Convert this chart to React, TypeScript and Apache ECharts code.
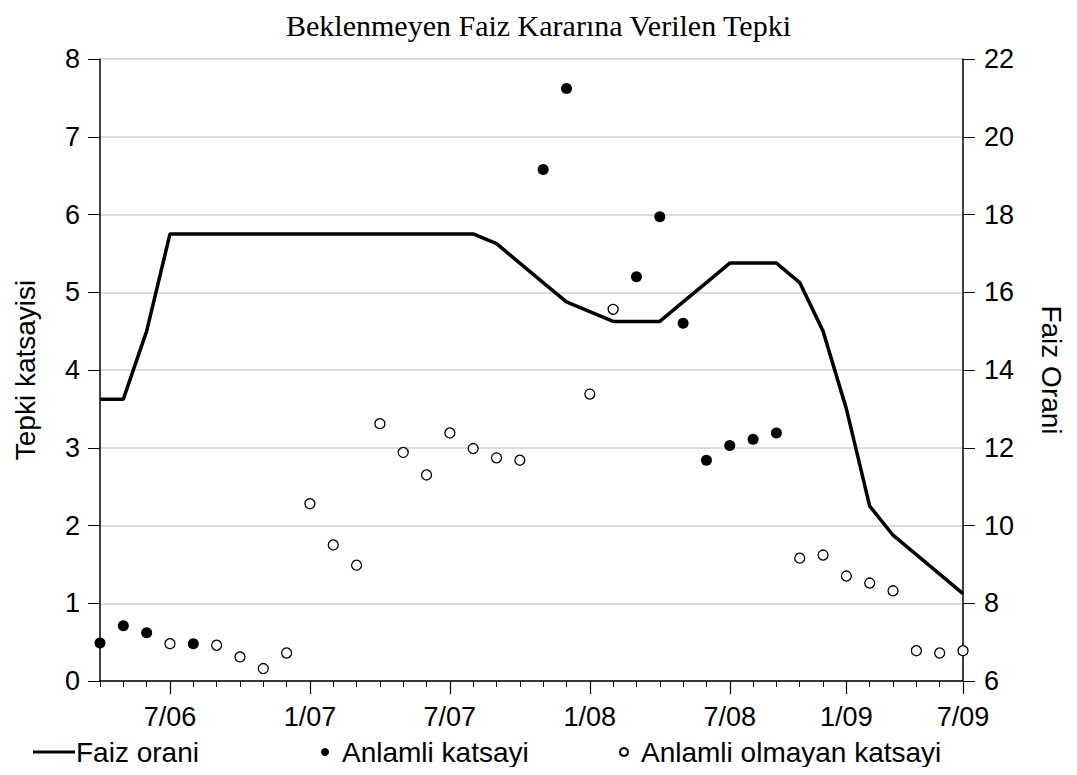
import React, { useEffect, useRef } from "react";
import * as echarts from "echarts";

const categories = [
  "4/06", "5/06", "6/06", "7/06", "8/06", "9/06", "10/06", "11/06", "12/06",
  "1/07", "2/07", "3/07", "4/07", "5/07", "6/07", "7/07", "8/07", "9/07", "10/07", "11/07", "12/07",
  "1/08", "2/08", "3/08", "4/08", "5/08", "6/08", "7/08", "8/08", "9/08", "11/08", "12/08",
  "1/09", "3/09", "4/09", "5/09", "6/09", "7/09",
];
const shownLabels = ["7/06", "1/07", "7/07", "1/08", "7/08", "1/09", "7/09"];

const faizOrani = [
  13.25, 13.25, 15.0, 17.5, 17.5, 17.5, 17.5, 17.5, 17.5,
  17.5, 17.5, 17.5, 17.5, 17.5, 17.5, 17.5, 17.5, 17.25, 16.75, 16.25, 15.75,
  15.5, 15.25, 15.25, 15.25, 15.75, 16.25, 16.75, 16.75, 16.75, 16.25, 15.0,
  13.0, 10.5, 9.75, 9.25, 8.75, 8.25,
];

const anlamli = [
  0.49, 0.71, 0.62, null, 0.48, null, null, null, null,
  null, null, null, null, null, null, null, null, null, null, 6.58, 7.62,
  null, null, 5.2, 5.97, 4.6, 2.84, 3.03, 3.11, 3.19, null, null,
  null, null, null, null, null, null,
];

const anlamliOlmayan = [
  null, null, null, 0.48, null, 0.46, 0.31, 0.16, 0.36,
  2.28, 1.75, 1.49, 3.31, 2.94, 2.65, 3.19, 2.99, 2.87, 2.84, null, null,
  3.69, 4.78, null, null, null, null, null, null, null, 1.58, 1.62,
  1.35, 1.26, 1.16, 0.39, 0.36, 0.39,
];

const SANS = "'Liberation Sans', Arial, sans-serif";
const SERIF = "'Liberation Serif', 'Times New Roman', serif";

export default function App() {
  const ref = useRef<HTMLDivElement>(null);
  useEffect(() => {
    if (!ref.current) return;
    const chart = echarts.init(ref.current, null, { renderer: "svg" });
    const labelText = { fontFamily: SANS, fontSize: 27, color: "#000" };
    const nameText = { fontFamily: SANS, fontSize: 28, color: "#000" };
    const legendText = { fontFamily: SANS, fontSize: 28, color: "#000" };
    chart.setOption({
      animation: false,
      backgroundColor: "#fff",
      title: {
        text: "Beklenmeyen Faiz Kararına Verilen Tepki",
        left: "center",
        top: 5,
        textStyle: { fontFamily: SERIF, fontSize: 30, fontWeight: "normal", color: "#000" },
      },
      grid: { left: 100, right: 114, top: 59, bottom: 94, containLabel: false },
      legend: [
        {
          data: [{ name: "Faiz orani", icon: "rect" }],
          left: 28, top: 733, itemWidth: 42, itemHeight: 3, itemGap: 0,
          textStyle: { ...legendText, padding: [0, 0, 0, -4] },
          itemStyle: { color: "#000" },
        },
        {
          data: [{ name: "Anlamli katsayi", icon: "circle" }],
          left: 316, top: 733, itemWidth: 8, itemHeight: 8,
          textStyle: { ...legendText, padding: [0, 0, 0, 8] },
        },
        {
          data: [{ name: "Anlamli olmayan katsayi", icon: "circle" }],
          left: 614, top: 733, itemWidth: 8, itemHeight: 8,
          textStyle: { ...legendText, padding: [0, 0, 0, 8] },
        },
      ],
      xAxis: [
        {
          type: "category",
          data: categories,
          boundaryGap: false,
          position: "bottom",
          axisLine: { show: true, lineStyle: { color: "#000", width: 1.5 } },
          axisTick: { show: true, interval: 0, length: 6, lineStyle: { color: "#000", width: 1 } },
          axisLabel: {
            interval: (_i: number, v: string) => shownLabels.includes(v),
            margin: 22,
            ...labelText,
          },
          splitLine: { show: false },
        },
        {
          type: "category",
          data: categories,
          boundaryGap: false,
          position: "bottom",
          axisLine: { show: false },
          axisTick: {
            show: true,
            interval: (_i: number, v: string) => shownLabels.includes(v),
            length: 13,
            lineStyle: { color: "#000", width: 1.2 },
          },
          axisLabel: { show: false },
          splitLine: { show: false },
        },
      ],
      yAxis: [
        {
          type: "value",
          min: 0,
          max: 8,
          interval: 1,
          position: "left",
          name: "Tepki katsayisi",
          nameLocation: "middle",
          nameGap: 61,
          nameTextStyle: nameText,
          axisLine: { show: true, lineStyle: { color: "#000", width: 1.5 } },
          axisTick: { show: true, length: 12, lineStyle: { color: "#000", width: 1 } },
          axisLabel: { margin: 20, ...labelText },
          splitLine: { show: true, lineStyle: { color: "#d0d0d0", width: 1.5 } },
        },
        {
          type: "value",
          min: 6,
          max: 22,
          interval: 2,
          position: "right",
          name: "Faiz Orani",
          nameLocation: "middle",
          nameRotate: -90,
          nameGap: 74,
          nameTextStyle: nameText,
          axisLine: { show: true, lineStyle: { color: "#000", width: 1.5 } },
          axisTick: { show: true, length: 12, lineStyle: { color: "#000", width: 1 } },
          axisLabel: { margin: 21, ...labelText },
          splitLine: { show: false },
        },
      ],
      series: [
        {
          name: "Faiz orani",
          type: "line",
          yAxisIndex: 1,
          data: faizOrani,
          showSymbol: false,
          symbol: "none",
          lineStyle: { color: "#000", width: 3.5 },
          itemStyle: { color: "#000" },
          z: 3,
        },
        {
          name: "Anlamli katsayi",
          type: "scatter",
          yAxisIndex: 0,
          data: anlamli,
          symbol: "circle",
          symbolSize: 11,
          itemStyle: { color: "#000", opacity: 1 },
          z: 4,
        },
        {
          name: "Anlamli olmayan katsayi",
          type: "scatter",
          yAxisIndex: 0,
          data: anlamliOlmayan,
          symbol: "circle",
          symbolSize: 10,
          itemStyle: { color: "#fff", borderColor: "#000", borderWidth: 1.3, opacity: 1 },
          z: 4,
        },
      ],
    });
    return () => chart.dispose();
  }, []);
  return <div ref={ref} style={{ width: 1077, height: 775, margin: -8 }} />;
}
